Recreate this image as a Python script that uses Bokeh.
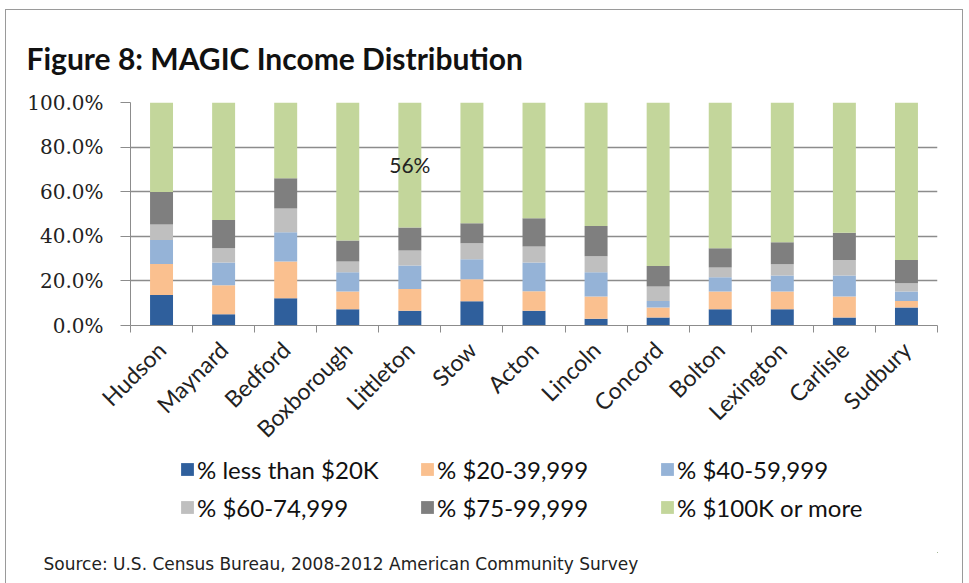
from bokeh.plotting import figure
from bokeh.layouts import column
from bokeh.models import (FixedTicker, Range1d, Legend, LegendItem, Title,
                          ColumnDataSource, Label)
from bokeh.embed import file_html
from bokeh.resources import INLINE
import math

towns = ["Hudson", "Maynard", "Bedford", "Boxborough", "Littleton", "Stow",
         "Acton", "Lincoln", "Concord", "Bolton", "Lexington", "Carlisle", "Sudbury"]
lt20k = [13.7, 5.1, 12.2, 7.3, 6.6, 10.9, 6.6, 3.0, 3.6, 7.3, 7.3, 3.6, 8.1]
k20_40 = [13.9, 13.0, 16.5, 7.9, 9.8, 9.8, 8.8, 10.0, 4.5, 7.9, 7.9, 9.4, 2.9]
k40_60 = [10.7, 10.1, 13.1, 8.7, 10.5, 9.0, 12.8, 10.9, 2.9, 6.4, 7.2, 9.4, 4.2]
k60_75 = [7.0, 6.4, 10.7, 4.8, 6.7, 7.2, 7.2, 7.1, 6.5, 4.4, 5.1, 7.0, 3.8]
k75_100 = [14.6, 12.7, 13.5, 9.4, 10.3, 8.9, 12.7, 13.6, 9.2, 8.6, 9.8, 12.2, 10.4]
k100plus = [40.1, 52.7, 34.0, 61.9, 56.1, 54.2, 51.9, 55.4, 73.3, 65.4, 62.7, 58.4, 70.6]

series_keys = ["lt20k", "k20_40", "k40_60", "k60_75", "k75_100", "k100plus"]
series_labels = ["% less than $20K", "% $20-39,999", "% $40-59,999",
                 "% $60-74,999", "% $75-99,999", "% $100K or more"]
colors = ["#2F5F9C", "#FAC08F", "#95B3D7", "#BFBFBF", "#7F7F7F", "#C3D69B"]
y_ticks = [0, 20, 40, 60, 80, 100]
annotation_town = "Littleton"
annotation_text = "56%"
annotation_y = 72
title_text = "Figure 8: MAGIC Income Distribution"
source_text = "Source: U.S. Census Bureau, 2008-2012 American Community Survey"

xs = [i + 0.5 for i in range(len(towns))]
src = ColumnDataSource(dict(x=xs, lt20k=lt20k, k20_40=k20_40, k40_60=k40_60,
                            k60_75=k60_75, k75_100=k75_100, k100plus=k100plus))

p = figure(width=956, height=445, output_backend="svg", toolbar_location=None,
           x_range=Range1d(0, len(towns)), y_range=Range1d(0, 100),
           min_border_left=124, min_border_right=25, min_border_top=92,
           min_border_bottom=129)

renderers = p.vbar_stack(series_keys, x="x", width=0.37, source=src,
                         color=colors, line_color=None)

# title
p.title.text = title_text
p.title.text_font = "Lato"
p.title.text_font_size = "30px"
p.title.text_font_style = "bold"
p.title.text_color = "#111111"
p.title.align = "left"
p.title.vertical_align = "top"
p.title.offset = -104
p.title.standoff = 50

# y axis
p.yaxis.ticker = FixedTicker(ticks=y_ticks)
p.yaxis.major_label_overrides = {t: f"{t:.1f}%" for t in y_ticks}
p.yaxis.major_label_text_font = "DejaVu Serif"
p.yaxis.major_label_text_font_size = "20px"
p.yaxis.major_label_text_color = "#222222"
p.yaxis.axis_line_color = "#8C8C8C"
p.yaxis.major_tick_line_color = "#8C8C8C"
p.yaxis.major_tick_out = 10
p.yaxis.major_tick_in = 0
p.yaxis.minor_tick_line_color = None
p.yaxis.major_label_standoff = 17

# x axis: labels at centers, ticks at category boundaries (minor)
p.xaxis.ticker = FixedTicker(ticks=xs, minor_ticks=list(range(len(towns) + 1)))
p.xaxis.major_label_overrides = {x: t for x, t in zip(xs, towns)}
p.xaxis.major_label_orientation = math.pi / 4
p.xaxis.major_label_text_font = "Lato"
p.xaxis.major_label_text_font_size = "23px"
p.xaxis.major_label_text_color = "#222222"
p.xaxis.major_tick_line_color = None
p.xaxis.minor_tick_line_color = "#8C8C8C"
p.xaxis.minor_tick_out = 7
p.xaxis.minor_tick_in = 0
p.xaxis.axis_line_color = "#8C8C8C"
p.xaxis.major_label_standoff = 13

p.xgrid.grid_line_color = None
p.ygrid.ticker = FixedTicker(ticks=y_ticks)
p.ygrid.grid_line_color = "#8C8C8C"
p.ygrid.grid_line_width = 1.3
p.outline_line_color = None

# annotation
p.add_layout(Label(x=xs[towns.index(annotation_town)], y=annotation_y,
                   text=annotation_text, text_align="center", text_baseline="middle",
                   text_font="Lato", text_font_size="21px", text_color="#222222"))

# second figure: legend and source note (its ranges keep the stacks out of view)
p2 = figure(width=956, height=119, output_backend="svg", toolbar_location=None,
            x_range=Range1d(-30, -20), y_range=Range1d(200, 300),
            x_axis_type=None, y_axis_type=None,
            min_border_left=124, min_border_right=25, min_border_top=0,
            min_border_bottom=0)
p2.grid.visible = False
p2.outline_line_color = None
legend_renderers = p2.vbar_stack(series_keys, x="x", width=0.37, source=src,
                                 color=colors, line_color=None)
items = [LegendItem(label=lab, renderers=[r]) for lab, r in zip(series_labels, legend_renderers)]
common = dict(orientation="horizontal", label_text_font="Lato", label_text_font_size="24px",
              label_text_color="#111111", glyph_width=16, glyph_height=16,
              label_standoff=2, spacing=8, margin=0, padding=0, border_line_color=None,
              background_fill_alpha=0, label_width=214, label_height=30)
legend1 = Legend(items=items[:3], location=(49, 68), **common)
legend2 = Legend(items=items[3:], location=(49, 30), **common)
p2.add_layout(legend1, "center")
p2.add_layout(legend2, "center")
p2.add_layout(Title(text=source_text, align="left", offset=-87, standoff=0,
                    vertical_align="middle", text_font="DejaVu Sans",
                    text_font_size="17px", text_font_style="normal",
                    text_color="#222222"), "below")

layout = column(p, p2, spacing=0,
                styles={"border": "1px solid #9A9A9A", "margin": "9px 0 0 5px",
                        "padding-bottom": "20px"})

open("out.html", "w").write(file_html(layout, INLINE))
